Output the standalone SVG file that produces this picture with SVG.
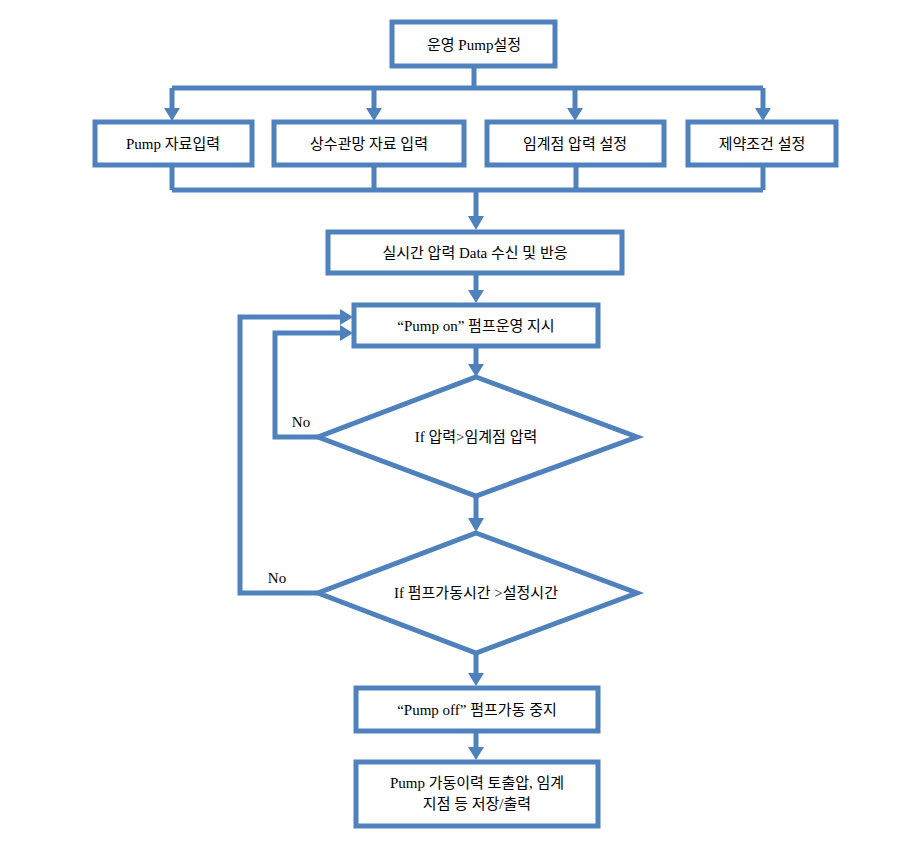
<svg xmlns="http://www.w3.org/2000/svg" width="910" height="848" viewBox="0 0 910 848">
<defs>
<style>
.b{fill:#fff;stroke:#4F81BD;stroke-width:5}
.l{fill:none;stroke:#4F81BD;stroke-width:5}
.a{fill:#4F81BD}
text{font-family:"Liberation Serif","Noto Sans CJK KR",serif;font-size:15px;fill:#000;text-anchor:middle}
</style>
</defs>
<rect width="910" height="848" fill="#fff"/>
<g id="connectors">
<path class="l" d="M474 66V88M172 88H763M172 88V110M374 88V110M575 88V110M763 88V110"/>
<polygon class="a" points="164,108 180,108 172,121"/>
<polygon class="a" points="366,108 382,108 374,121"/>
<polygon class="a" points="567,108 583,108 575,121"/>
<polygon class="a" points="755,108 771,108 763,121"/>
<path class="l" d="M172 165V190M374 165V190M576 165V190M763 165V190M172 190H763M476 190V218"/>
<polygon class="a" points="468,216 484,216 476,230"/>
<path class="l" d="M476 273V292"/>
<polygon class="a" points="468,290 484,290 476,303"/>
<path class="l" d="M476 346V366"/>
<polygon class="a" points="468,364 484,364 476,377"/>
<path class="l" d="M476 496V520"/>
<polygon class="a" points="468,518 484,518 476,532"/>
<path class="l" d="M476 653V675"/>
<polygon class="a" points="468,673 484,673 476,686"/>
<path class="l" d="M476 731V749"/>
<polygon class="a" points="468,747 484,747 476,760"/>
<path class="l" d="M318 437H275V333H342"/>
<polygon class="a" points="340,325 340,341 353,333"/>
<path class="l" d="M318 593H240V317H342"/>
<polygon class="a" points="340,309 340,325 353,317"/>
<text x="301" y="427">No</text>
<text x="277" y="583">No</text>
</g>
<g id="n1"><rect class="b" x="392" y="22" width="163" height="44"/><text x="474" y="50">운영 Pump설정</text></g>
<g id="n2"><rect class="b" x="95" y="122" width="157" height="43"/><text x="173" y="149">Pump 자료입력</text></g>
<g id="n3"><rect class="b" x="274" y="122" width="190" height="43"/><text x="369" y="149">상수관망 자료 입력</text></g>
<g id="n4"><rect class="b" x="487" y="122" width="177" height="43"/><text x="575" y="149">임계점 압력 설정</text></g>
<g id="n5"><rect class="b" x="688" y="122" width="148" height="43"/><text x="762" y="149">제약조건 설정</text></g>
<g id="n6"><rect class="b" x="328" y="232" width="294" height="41"/><text x="475" y="258">실시간 압력 Data 수신 및 반응</text></g>
<g id="n7"><rect class="b" x="354" y="305" width="244" height="41"/><text x="476" y="331">“Pump on” 펌프운영 지시</text></g>
<g id="n8"><polygon class="b" points="476,377 637,437 476,496 318,437"/><text x="476" y="442">If 압력&gt;임계점 압력</text></g>
<g id="n9"><polygon class="b" points="476,533 637,593 476,653 318,593"/><text x="476" y="598">If 펌프가동시간 &gt;설정시간</text></g>
<g id="n10"><rect class="b" x="356" y="688" width="242" height="43"/><text x="477" y="715">“Pump off” 펌프가동 중지</text></g>
<g id="n11"><rect class="b" x="356" y="762" width="242" height="64"/><text x="477" y="788">Pump 가동이력 토출압, 임계</text><text x="477" y="809">지점 등 저장/출력</text></g>
</svg>
